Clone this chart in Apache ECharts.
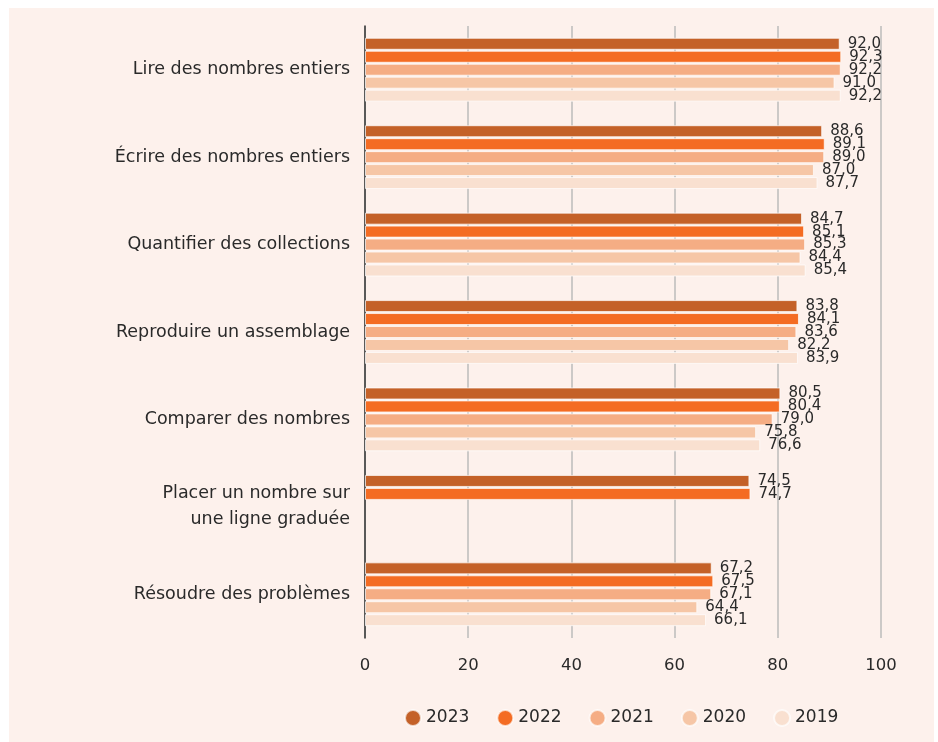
<!DOCTYPE html>
<html><head><meta charset="utf-8">
<script src="https://cdn.jsdelivr.net/npm/echarts@6/dist/echarts.min.js"></script>
<style>
html,body{margin:0;padding:0;background:#fff;}
#panel{position:absolute;left:9px;top:8px;width:925px;height:734px;background:#fdf1ec;}
#c{position:absolute;left:0;top:0;width:938px;height:742px;}
</style></head>
<body><div id="panel"></div><div id="c"></div>
<script>
const categories = ["Lire des nombres entiers","Écrire des nombres entiers","Quantifier des collections","Reproduire un assemblage","Comparer des nombres","Placer un nombre sur\nune ligne graduée","Résoudre des problèmes"];
const years = ["2023","2022","2021","2020","2019"];
const v2023 = [92.0, 88.6, 84.7, 83.8, 80.5, 74.5, 67.2];
const v2022 = [92.3, 89.1, 85.1, 84.1, 80.4, 74.7, 67.5];
const v2021 = [92.2, 89.0, 85.3, 83.6, 79.0, null, 67.1];
const v2020 = [91.0, 87.0, 84.4, 82.2, 75.8, null, 64.4];
const v2019 = [92.2, 87.7, 85.4, 83.9, 76.6, null, 66.1];
const xTicks = [0, 20, 40, 60, 80, 100];
const colors = ["#c46128","#f46c23","#f5ad84","#f6c6a6","#f9e0d0"];
const values = [v2023, v2022, v2021, v2020, v2019];
const FONT = "DejaVu Sans";
const chart = echarts.init(document.getElementById('c'));
chart.setOption({
  animation:false,
  textStyle:{fontFamily:FONT},
  grid:{left:365, right:57, top:26, bottom:104, containLabel:false},
  legend:{
    top:704, left:399, icon:'circle', itemWidth:16, itemHeight:16, itemGap:27,
    textStyle:{fontSize:17, color:'#2a2a2a', fontFamily:FONT},
    data: years
  },
  xAxis:{
    type:'value', min:xTicks[0], max:xTicks[xTicks.length-1], interval:20,
    axisLine:{show:false},
    axisTick:{show:false},
    axisLabel:{fontSize:16.5, color:'#2a2a2a', margin:19, fontFamily:FONT},
    splitLine:{show:true, lineStyle:{color:'#bbbbbb', width:1.5}}
  },
  yAxis:{
    type:'category', data:categories, inverse:true,
    axisLine:{show:true, lineStyle:{color:'#333', width:1.5}},
    axisTick:{show:false},
    axisLabel:{fontSize:17.5, color:'#2a2a2a', margin:15, align:'right', lineHeight:26, fontFamily:FONT}
  },
  series: years.map((y,i)=>({
    name:y, type:'bar', data:values[i],
    barWidth:12, barGap:'8%', barCategoryGap:'26%',
    itemStyle:{color:colors[i], borderColor:'rgba(255,255,255,0.7)', borderWidth:1},
    label:{show:true, position:'right', distance:8, fontSize:15, color:'#2a2a2a', fontFamily:FONT,
      formatter:p=>p.value==null?'':p.value.toFixed(1).replace('.',',')}
  }))
});
</script></body></html>
